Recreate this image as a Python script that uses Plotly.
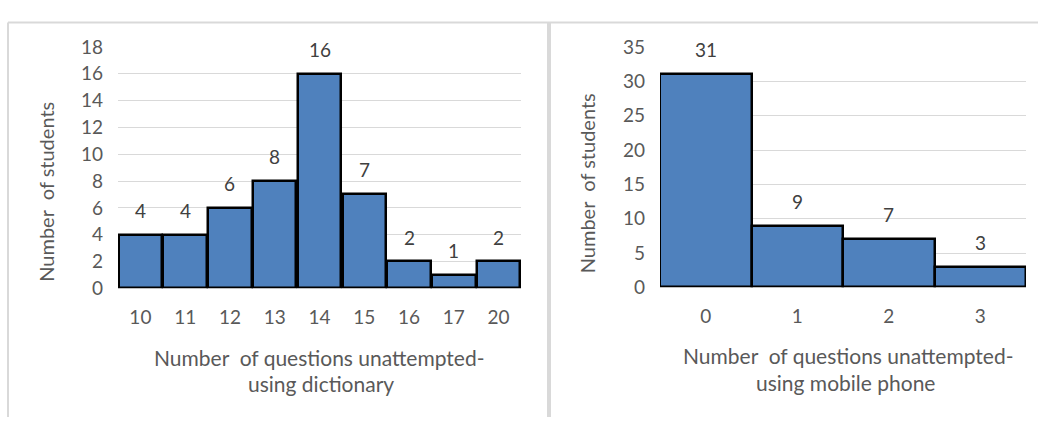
import plotly.graph_objects as go

# Survey counts: unattempted questions vs number of students
dict_questions = ["10", "11", "12", "13", "14", "15", "16", "17", "20"]
dict_students = [4, 4, 6, 8, 16, 7, 2, 1, 2]

phone_questions = ["0", "1", "2", "3"]
phone_students = [31, 9, 7, 3]

left_ticks = list(range(0, 19, 2))
right_ticks = list(range(0, 36, 5))

FONT = "Lato"
TEXT_GREY = "#595959"
LABEL_GREY = "#404040"
BAR_BLUE = "#4f81bd"
GRID = "#d9d9d9"
W, H = 1038, 428


def px_x(v):
    return v / W


def px_y(v):
    return 1 - v / H


fig = go.Figure()

fig.add_trace(go.Bar(
    x=dict_questions, y=dict_students, xaxis="x", yaxis="y",
    marker=dict(color=BAR_BLUE, line=dict(color="black", width=2.5)),
    width=0.97, showlegend=False, hoverinfo="x+y",
))
fig.add_trace(go.Bar(
    x=phone_questions, y=phone_students, xaxis="x2", yaxis="y2",
    marker=dict(color=BAR_BLUE, line=dict(color="black", width=2.5)),
    width=1.0, showlegend=False, hoverinfo="x+y",
))

label_font = dict(family=FONT, size=19, color=LABEL_GREY)
annotations = []
# value labels: category axes take the category index as position
for i, s in enumerate(dict_students):
    annotations.append(dict(x=i, y=s, xref="x", yref="y", text=str(s),
                            showarrow=False, xanchor="center", yanchor="bottom",
                            yshift=11, font=label_font))
for i, s in enumerate(phone_students):
    annotations.append(dict(x=i, y=s, xref="x2", yref="y2", text=str(s),
                            showarrow=False, xanchor="center", yanchor="bottom",
                            yshift=11, font=label_font))

xt_font = dict(family=FONT, size=21, color=TEXT_GREY)
yt_font = dict(family=FONT, size=20, color=TEXT_GREY)


def title_note(x, y, text, font, angle=0):
    return dict(x=px_x(x), y=px_y(y), xref="paper", yref="paper", showarrow=False,
                xanchor="center", yanchor="middle", text=text, font=font,
                textangle=angle)


annotations += [
    title_note(319, 365, "Number\u00a0\u00a0of questions unattempted-", xt_font),
    title_note(321, 393, "using dictionary", xt_font),
    title_note(46, 190, "Number\u00a0\u00a0of students", yt_font, -90),
    title_note(848, 363, "Number\u00a0\u00a0of questions unattempted-", xt_font),
    title_note(845, 392, "using mobile phone", xt_font),
    title_note(587, 181, "Number\u00a0\u00a0of students", yt_font, -90),
]

# panel frames
frame = dict(color=GRID, width=2)
shapes = [
    dict(type="line", xref="paper", yref="paper", x0=px_x(8), x1=1, y0=px_y(11), y1=px_y(11), line=frame),
    dict(type="line", xref="paper", yref="paper", x0=px_x(8), x1=px_x(8), y0=px_y(11), y1=0, line=frame),
    dict(type="line", xref="paper", yref="paper", x0=px_x(549), x1=px_x(549), y0=px_y(11), y1=0,
         line=dict(color=GRID, width=4)),
]

tick_font = dict(family=FONT, size=19, color=TEXT_GREY)
x_common = dict(type="category", showgrid=False, zeroline=False, showline=False,
                ticks="", tickfont=tick_font, ticklabelstandoff=16, fixedrange=True,
                tickmode="linear", dtick=1)
y_common = dict(showgrid=True, gridcolor=GRID, gridwidth=1.2, zeroline=False, showline=False,
                ticks="", tickfont=tick_font, ticklabelstandoff=14, fixedrange=True)

fig.update_layout(
    width=W, height=H,
    margin=dict(l=0, r=0, t=0, b=0),
    paper_bgcolor="white", plot_bgcolor="white",
    bargap=0,
    xaxis=dict(domain=[px_x(118), px_x(521)], anchor="y",
               range=[-0.5, len(dict_questions) - 0.5], **x_common),
    yaxis=dict(domain=[px_y(292), px_y(37)], anchor="x", range=[0, 18],
               tickvals=left_ticks, **y_common),
    xaxis2=dict(domain=[px_x(660), px_x(1026)], anchor="y2",
                range=[-0.5, len(phone_questions) - 0.5], **x_common),
    yaxis2=dict(domain=[px_y(291), px_y(37)], anchor="x2", range=[0, 35],
                tickvals=right_ticks, **y_common),
    annotations=annotations,
    shapes=shapes,
)

fig.write_html("out.html", config={"displayModeBar": False})
